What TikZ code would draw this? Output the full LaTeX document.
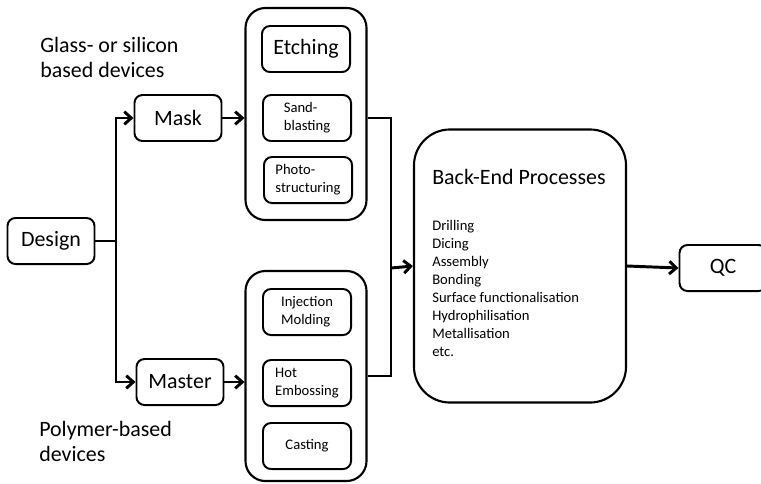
\documentclass[tikz,border=0pt]{standalone}
\usepackage{fontspec}
\setmainfont{Carlito}
\usetikzlibrary{arrows.meta}

\begin{document}
\begin{tikzpicture}[x=0.025cm, y=-0.025cm,
        >={Straight Barb[length=5pt, width=9pt]},
        box/.style={rectangle, rounded corners=0.2cm, draw, line width=1.4pt, minimum width=2.175cm, minimum height=1.15cm, align=center, font=\fontsize{15.6}{18}\selectfont},
        subbox/.style={rectangle, rounded corners=0.2cm, draw, line width=1.4pt, minimum width=2.2cm, minimum height=1.15cm, align=left, inner sep=1pt, font=\fontsize{10.4}{12.8}\selectfont},
        group/.style={rectangle, rounded corners=0.5cm, draw, line width=1.5pt, minimum width=3.025cm, minimum height=5.3cm},
        devtext/.style={anchor=west, align=left, inner sep=0pt, font=\fontsize{15.6}{17.8}\selectfont},
        link/.style={line width=2.1pt}
    ]
        \useasboundingbox (0,0) rectangle (761,483);

        \node[box] (design) at (51,241) {Design};
        \node[box] (mask) at (178,118) {Mask};
        \node[box] (master) at (180,382) {Master};

        \node[devtext] (glass) at (40,57) {Glass- or silicon\\based devices};
        \node[devtext] (polymer) at (39,441) {Polymer-based\\devices};

        \node[group] (topgrp) at (306,114) {};
        \node[subbox, font=\fontsize{15.6}{18}\selectfont] (etching) at (306,49) {Etching};
        \node[subbox] (sand) at (307,118) {Sand-\\blasting};
        \node[subbox] (photo) at (308,180) {Photo-\\structuring};

        \node[group, minimum height=5.25cm] (botgrp) at (306,376) {};
        \node[subbox] (inject) at (307,312) {Injection\\Molding};
        \node[subbox] (hot) at (307,383) {Hot\\Embossing};
        \node[subbox] (cast) at (307,446) {Casting};

        \node[group, rounded corners=0.9cm, minimum width=5.3cm, minimum height=6.825cm] (backend) at (520,266) {};
        \node[devtext] (betitle) at (432,177) {Back-End Processes};
        \node[devtext, anchor=north west, font=\fontsize{10.4}{12.8}\selectfont] (belist) at (432,220) {Drilling\\Dicing\\Assembly\\Bonding\\Surface functionalisation\\Hydrophilisation\\Metallisation\\etc.};

        \node[box] (qc) at (723,268) {QC};

        \coordinate (split) at (116,241);
        \coordinate (merge) at (391,268);

        \draw[link] (design.east) -- (split);
        \draw[link, ->] (split) |- (mask.west);
        \draw[link, ->] (split) |- (master.west);
        \draw[link, ->] (mask.east) -- (mask.east -| topgrp.west);
        \draw[link, ->] (master.east) -- (master.east -| botgrp.west);
        \draw[link] (topgrp.east |- sand) -| (merge);
        \draw[link] (botgrp.east) -| (merge);
        \draw[link, ->] (merge) -- (backend.west);
        \draw[link, ->] (backend.east) -- (qc.west);
    \end{tikzpicture}
\end{document}
